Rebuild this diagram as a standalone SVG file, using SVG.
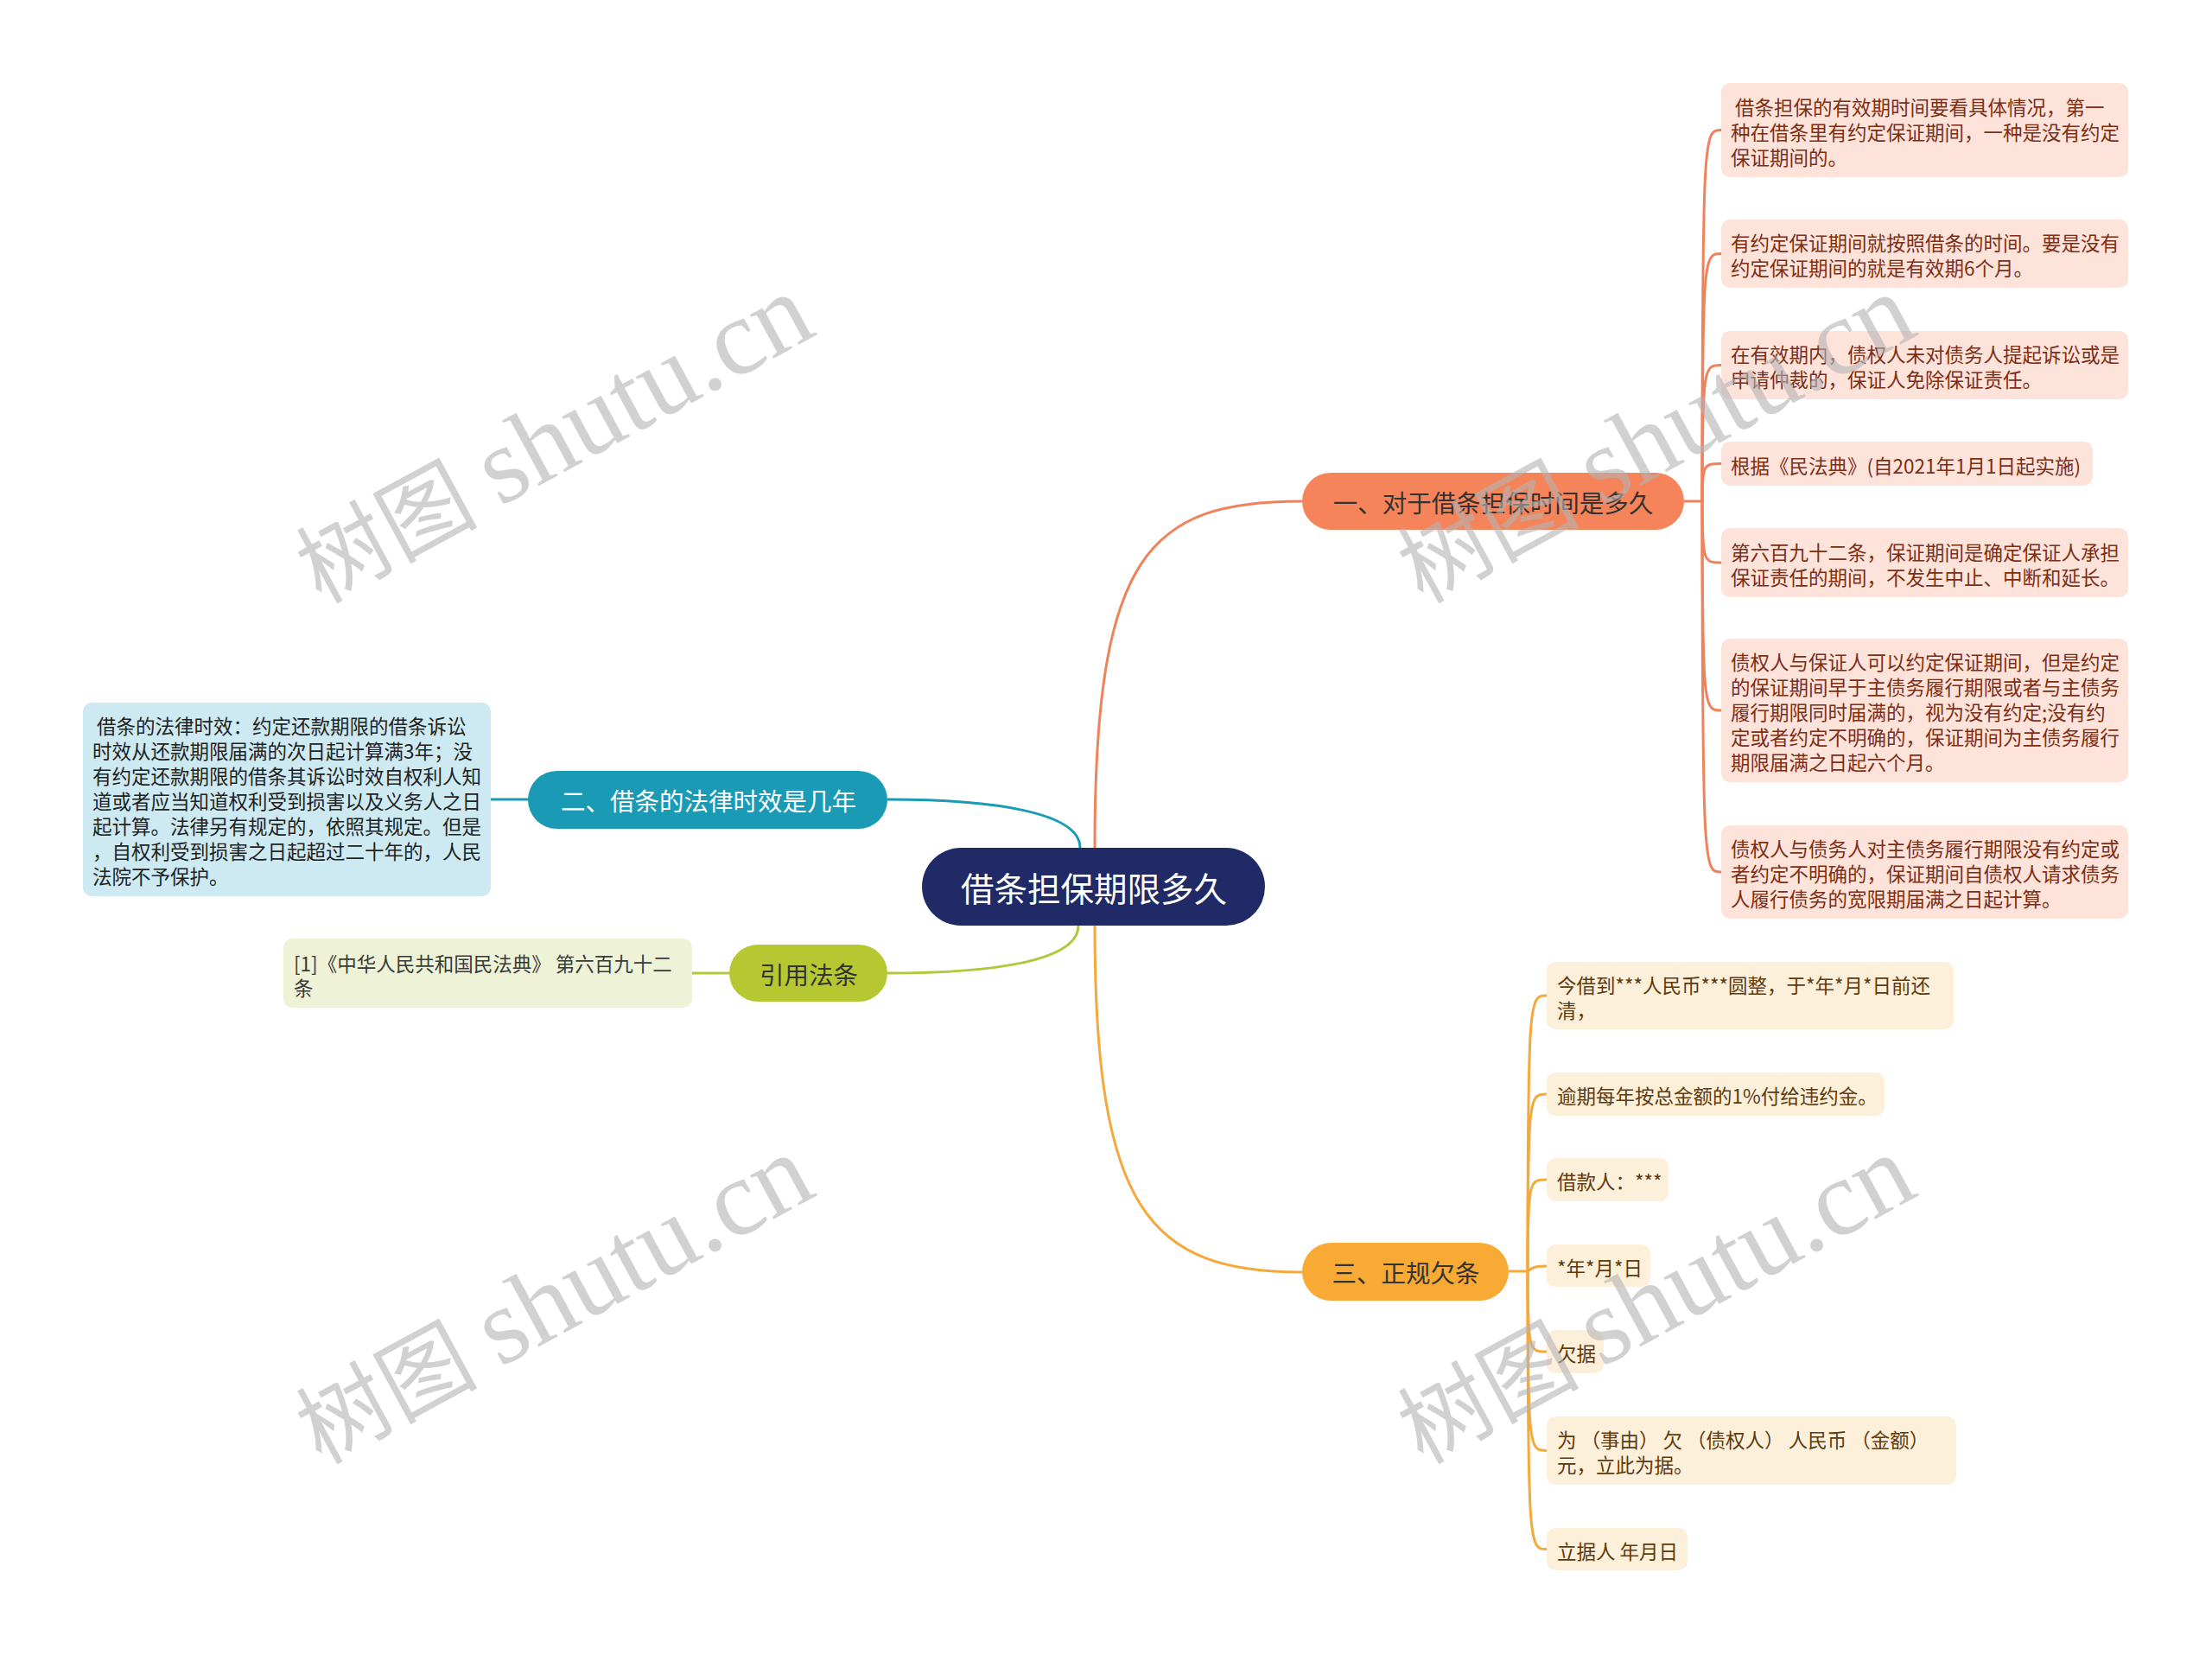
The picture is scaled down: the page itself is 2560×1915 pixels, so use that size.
<svg xmlns="http://www.w3.org/2000/svg" width="2560" height="1915" viewBox="0 0 2560 1915">
<style>
text{font-family:"Noto Sans CJK SC","Liberation Sans",sans-serif;dominant-baseline:central}
.leaf{font-size:22.5px}
.br{font-size:28.5px;fill:#333;text-anchor:middle}
.c1{fill:none;stroke:#f0825a;stroke-width:3}
.c2{fill:none;stroke:#1a9ab5;stroke-width:3}
.c3{fill:none;stroke:#f4a93a;stroke-width:3}
.c4{fill:none;stroke:#b4c73a;stroke-width:3}
.l1{fill:#fde3da}
.t1{fill:#7d2e14}
.l3{fill:#fdf0db}
.t3{fill:#5e3a0c}
.wm text{fill:#b4b4b4;opacity:0.6;font-family:"Liberation Serif","Noto Sans CJK SC",serif;dominant-baseline:alphabetic}
</style>
<rect width="2560" height="1915" fill="#ffffff"/>
<g id="connectors">
<path class="c1" d="M1267,981 C1267,640 1330,580 1507,580"/>
<path class="c3" d="M1267,1071 C1267,1400 1330,1472 1507,1472"/>
<path class="c2" d="M1250,981 C1250,940 1150,925 1027,925"/>
<path class="c4" d="M1248,1071 C1248,1112 1150,1126 1027,1126"/>
<path class="c2" d="M568,925 L611,925"/>
<path class="c4" d="M801,1126 L844,1126"/>
<path class="c1" d="M1949,580 L1970,580"/>
<path class="c1" d="M1970,580 C1970,150.5 1972,150.5 1992,150.5"/>
<path class="c1" d="M1970,580 C1970,293.5 1972,293.5 1992,293.5"/>
<path class="c1" d="M1970,580 C1970,422.5 1972,422.5 1992,422.5"/>
<path class="c1" d="M1970,580 C1970,536.5 1972,536.5 1992,536.5"/>
<path class="c1" d="M1970,580 C1970,651 1972,651 1992,651"/>
<path class="c1" d="M1970,580 C1970,822 1972,822 1992,822"/>
<path class="c1" d="M1970,580 C1970,1009 1972,1009 1992,1009"/>
<path class="c3" d="M1746,1471 L1768,1471"/>
<path class="c3" d="M1768,1471 C1768,1152 1770,1152 1790,1152"/>
<path class="c3" d="M1768,1471 C1768,1266 1770,1266 1790,1266"/>
<path class="c3" d="M1768,1471 C1768,1365 1770,1365 1790,1365"/>
<path class="c3" d="M1768,1471 C1775,1465 1780,1465 1790,1465"/>
<path class="c3" d="M1768,1471 C1768,1564 1770,1564 1790,1564"/>
<path class="c3" d="M1768,1471 C1768,1678.5 1770,1678.5 1790,1678.5"/>
<path class="c3" d="M1768,1471 C1768,1792.5 1770,1792.5 1790,1792.5"/>
</g>
<g id="center">
<rect x="1067" y="981" width="397" height="90" rx="45" fill="#1f2a66"/>
<text x="1266" y="1026" font-size="38.5" fill="#ffffff" text-anchor="middle">借条担保期限多久</text>
</g>
<g id="branch1">
<rect x="1507" y="547" width="442" height="66" rx="33" fill="#f5845a"/>
<text class="br" x="1728" y="580">一、对于借条担保时间是多久</text>
</g>
<g id="branch2">
<rect x="611" y="892" width="416" height="67" rx="33.5" fill="#1a9ab5"/>
<text class="br" x="820" y="925" style="fill:#ffffff">二、借条的法律时效是几年</text>
</g>
<g id="branch3">
<rect x="1507" y="1438" width="239" height="67" rx="33.5" fill="#f8aa35"/>
<text class="br" x="1627" y="1471">三、正规欠条</text>
</g>
<g id="branch4">
<rect x="844" y="1093" width="183" height="66" rx="33" fill="#b5c832"/>
<text class="br" x="936" y="1126">引用法条</text>
</g>
<g id="leaf2-1">
<rect x="96" y="813" width="472" height="224" rx="10" fill="#cdeaf2"/>
<text class="leaf" x="107" fill="#222"><tspan x="107" y="839">&#160;借条的法律时效：约定还款期限的借条诉讼</tspan><tspan x="107" y="868">时效从还款期限届满的次日起计算满3年；没</tspan><tspan x="107" y="897">有约定还款期限的借条其诉讼时效自权利人知</tspan><tspan x="107" y="926">道或者应当知道权利受到损害以及义务人之日</tspan><tspan x="107" y="955">起计算。法律另有规定的，依照其规定。但是</tspan><tspan x="107" y="984">，自权利受到损害之日起超过二十年的，人民</tspan><tspan x="107" y="1013">法院不予保护。</tspan></text>
</g>
<g id="leaf4-1">
<rect x="328" y="1086" width="473" height="80" rx="10" fill="#eef3d8"/>
<text class="leaf" fill="#3a3a3a"><tspan x="340" y="1114">[1]《中华人民共和国民法典》 第六百九十二</tspan><tspan x="340" y="1142">条</tspan></text>
</g>
<g id="leaf1-1">
<rect class="l1" x="1992" y="96" width="471" height="109" rx="10"/>
<text class="leaf t1"><tspan x="2003" y="123">&#160;借条担保的有效期时间要看具体情况，第一</tspan><tspan x="2003" y="152">种在借条里有约定保证期间，一种是没有约定</tspan><tspan x="2003" y="181">保证期间的。</tspan></text>
</g>
<g id="leaf1-2">
<rect class="l1" x="1992" y="254" width="471" height="79" rx="10"/>
<text class="leaf t1"><tspan x="2003" y="280">有约定保证期间就按照借条的时间。要是没有</tspan><tspan x="2003" y="309">约定保证期间的就是有效期6个月。</tspan></text>
</g>
<g id="leaf1-3">
<rect class="l1" x="1992" y="383" width="471" height="79" rx="10"/>
<text class="leaf t1"><tspan x="2003" y="409">在有效期内，债权人未对债务人提起诉讼或是</tspan><tspan x="2003" y="438">申请仲裁的，保证人免除保证责任。</tspan></text>
</g>
<g id="leaf1-4">
<rect class="l1" x="1992" y="511" width="430" height="51" rx="10"/>
<text class="leaf t1" x="2003" y="537.5">根据《民法典》(自2021年1月1日起实施)</text>
</g>
<g id="leaf1-5">
<rect class="l1" x="1992" y="611" width="471" height="80" rx="10"/>
<text class="leaf t1"><tspan x="2003" y="637.5">第六百九十二条，保证期间是确定保证人承担</tspan><tspan x="2003" y="666.5">保证责任的期间，不发生中止、中断和延长。</tspan></text>
</g>
<g id="leaf1-6">
<rect class="l1" x="1992" y="739" width="471" height="166" rx="10"/>
<text class="leaf t1"><tspan x="2003" y="765">债权人与保证人可以约定保证期间，但是约定</tspan><tspan x="2003" y="794">的保证期间早于主债务履行期限或者与主债务</tspan><tspan x="2003" y="823">履行期限同时届满的，视为没有约定;没有约</tspan><tspan x="2003" y="852">定或者约定不明确的，保证期间为主债务履行</tspan><tspan x="2003" y="881">期限届满之日起六个月。</tspan></text>
</g>
<g id="leaf1-7">
<rect class="l1" x="1992" y="955" width="471" height="108" rx="10"/>
<text class="leaf t1"><tspan x="2003" y="981">债权人与债务人对主债务履行期限没有约定或</tspan><tspan x="2003" y="1010">者约定不明确的，保证期间自债权人请求债务</tspan><tspan x="2003" y="1039">人履行债务的宽限期届满之日起计算。</tspan></text>
</g>
<g id="leaf3-1">
<rect class="l3" x="1790" y="1113" width="471" height="78" rx="10"/>
<text class="leaf t3"><tspan x="1802" y="1139">今借到***人民币***圆整，于*年*月*日前还</tspan><tspan x="1802" y="1168">清，</tspan></text>
</g>
<g id="leaf3-2">
<rect class="l3" x="1790" y="1241" width="391" height="50" rx="10"/>
<text class="leaf t3" x="1802" y="1267">逾期每年按总金额的1%付给违约金。</text>
</g>
<g id="leaf3-3">
<rect class="l3" x="1790" y="1340" width="141" height="50" rx="10"/>
<text class="leaf t3" x="1802" y="1366">借款人：***</text>
</g>
<g id="leaf3-4">
<rect class="l3" x="1790" y="1440" width="120" height="49" rx="10"/>
<text class="leaf t3" x="1802" y="1466">*年*月*日</text>
</g>
<g id="leaf3-5">
<rect class="l3" x="1790" y="1539" width="66" height="50" rx="10"/>
<text class="leaf t3" x="1802" y="1565">欠据</text>
</g>
<g id="leaf3-6">
<rect class="l3" x="1790" y="1639" width="474" height="79" rx="10"/>
<text class="leaf t3"><tspan x="1802" y="1665">为 （事由） 欠 （债权人） 人民币 （金额）</tspan><tspan x="1802" y="1694">元，立此为据。</tspan></text>
</g>
<g id="leaf3-7">
<rect class="l3" x="1790" y="1768" width="163" height="49" rx="10"/>
<text class="leaf t3" x="1802" y="1794">立据人 年月日</text>
</g>
<g class="wm">
<g transform="translate(658,515) rotate(-28.5)"><text x="-340" y="25" font-size="105">树图</text><text x="-104" y="25" font-size="125">shutu.cn</text></g>
<g transform="translate(1933,515) rotate(-28.5)"><text x="-340" y="25" font-size="105">树图</text><text x="-104" y="25" font-size="125">shutu.cn</text></g>
<g transform="translate(658,1511) rotate(-28.5)"><text x="-340" y="25" font-size="105">树图</text><text x="-104" y="25" font-size="125">shutu.cn</text></g>
<g transform="translate(1933,1511) rotate(-28.5)"><text x="-340" y="25" font-size="105">树图</text><text x="-104" y="25" font-size="125">shutu.cn</text></g>
</g>
</svg>
